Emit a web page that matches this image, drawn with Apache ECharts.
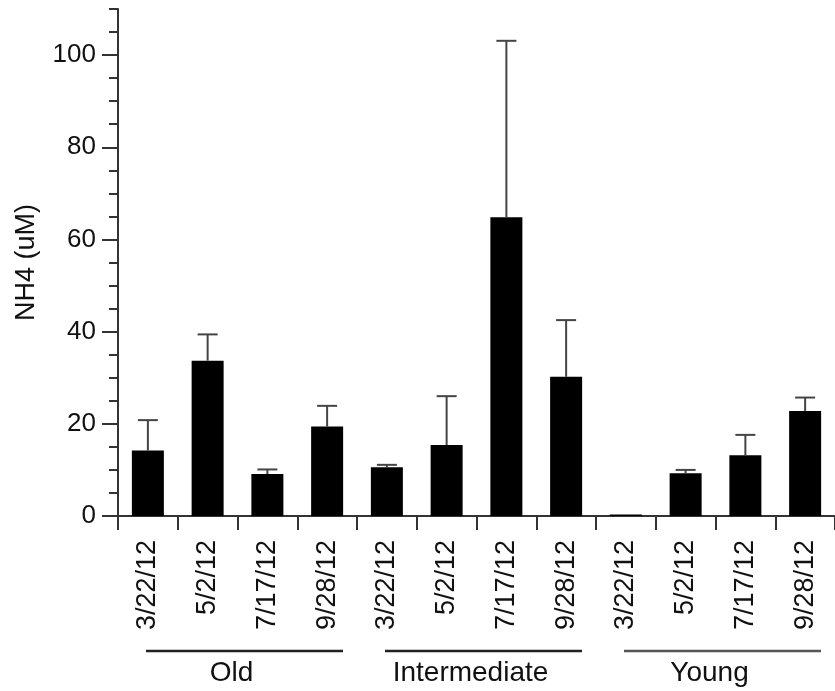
<!DOCTYPE html>
<html>
<head>
<meta charset="utf-8">
<script src="https://cdn.jsdelivr.net/npm/echarts@6/dist/echarts.min.js"></script>
<style>
  html, body { margin: 0; padding: 0; background: #fff; }
  #chart { width: 835px; height: 691px; }
</style>
</head>
<body>
<div id="chart"></div>
<script>
// Sampling dates, repeated for each stand age
const dates = ['3/22/12', '5/2/12', '7/17/12', '9/28/12'];
const groups = ['Old', 'Intermediate', 'Young'];
const groupLineColors = ['#222', '#222', '#555'];

// Mean NH4 (uM) per group and date
const oldMeans = [14.2, 33.7, 9.1, 19.4];
const intermediateMeans = [10.6, 15.4, 64.8, 30.2];
const youngMeans = [0.3, 9.3, 13.2, 22.8];

// Upper error (one side) per group and date
const oldErrors = [6.6, 5.7, 1.0, 4.5];
const intermediateErrors = [0.5, 10.6, 38.3, 12.3];
const youngErrors = [0.0, 0.7, 4.4, 2.9];

// Y axis tick values
const majorTicks = [0, 20, 40, 60, 80, 100];

const categories = [].concat(dates, dates, dates);
const means = [].concat(oldMeans, intermediateMeans, youngMeans);
const errors = [].concat(oldErrors, intermediateErrors, youngErrors);
const errorData = means.map((m, i) => [i, m, m + errors[i]]);

const FONT = 'Liberation Sans';
const AXIS_COLOR = '#333';

const chart = echarts.init(document.getElementById('chart'), null, { renderer: 'canvas' });

chart.setOption({
  animation: false,
  backgroundColor: '#fff',
  grid: { left: 118, top: 9, width: 719, height: 507, containLabel: false },
  xAxis: {
    type: 'category',
    data: categories,
    boundaryGap: true,
    axisLine: { lineStyle: { color: AXIS_COLOR, width: 2 } },
    axisTick: { show: true, interval: 0, length: 14, lineStyle: { color: AXIS_COLOR, width: 2 } },
    axisLabel: {
      interval: 0,
      rotate: 90,
      margin: 24,
      fontFamily: FONT,
      fontSize: 27,
      color: '#111'
    }
  },
  yAxis: [
    {
      type: 'value',
      min: 0,
      max: 110,
      interval: 20,
      name: 'NH4 (uM)',
      nameLocation: 'middle',
      nameGap: 78,
      nameRotate: 90,
      nameTextStyle: { fontFamily: FONT, fontSize: 27, color: '#111' },
      axisLine: { show: true, lineStyle: { color: AXIS_COLOR, width: 2 } },
      axisTick: { show: true, length: 16, customValues: majorTicks, lineStyle: { color: AXIS_COLOR, width: 2 } },
      axisLabel: {
        customValues: majorTicks,
        margin: 22,
        fontFamily: FONT,
        fontSize: 26,
        color: '#111'
      },
      splitLine: { show: false }
    },
    {
      // minor ticks every 5 units
      type: 'value',
      position: 'left',
      min: 0,
      max: 110,
      interval: 5,
      axisLine: { show: false },
      axisTick: { show: true, length: 9, lineStyle: { color: AXIS_COLOR, width: 2 } },
      axisLabel: { show: false },
      splitLine: { show: false }
    }
  ],
  series: [
    {
      type: 'bar',
      data: means,
      barWidth: 32,
      itemStyle: { color: '#000' },
      z: 2
    },
    {
      type: 'custom',
      data: errorData,
      encode: { x: 0, y: [1, 2] },
      z: 3,
      renderItem: function (params, api) {
        const idx = api.value(0);
        const base = api.coord([idx, api.value(1)]);
        const top = api.coord([idx, api.value(2)]);
        if (Math.abs(base[1] - top[1]) < 0.5) return null;
        const cap = 10;
        const style = { stroke: '#444', lineWidth: 2 };
        return {
          type: 'group',
          children: [
            { type: 'line', shape: { x1: top[0], y1: base[1], x2: top[0], y2: top[1] }, style: style },
            { type: 'line', shape: { x1: top[0] - cap, y1: top[1], x2: top[0] + cap, y2: top[1] }, style: style }
          ]
        };
      }
    }
  ]
});

// Group brackets under the date labels, positioned from the category axis
function drawGroups() {
  const c0 = chart.convertToPixel({ xAxisIndex: 0 }, 0);
  const c1 = chart.convertToPixel({ xAxisIndex: 0 }, 1);
  const band = c1 - c0;
  const y0 = chart.convertToPixel({ yAxisIndex: 0 }, 0);
  const elements = [];
  groups.forEach((name, g) => {
    const first = chart.convertToPixel({ xAxisIndex: 0 }, g * dates.length);
    const last = chart.convertToPixel({ xAxisIndex: 0 }, g * dates.length + dates.length - 1);
    const left = first - band / 2 + 28;
    const right = last + band / 2 - 14;
    elements.push({
      type: 'line',
      shape: { x1: left, y1: y0 + 135, x2: right, y2: y0 + 135 },
      style: { stroke: groupLineColors[g], lineWidth: 2.5 }
    });
    elements.push({
      type: 'text',
      x: (first + last) / 2 - 6,
      y: y0 + 157,
      style: {
        text: name,
        fontFamily: FONT,
        fontSize: 28,
        fill: '#111',
        align: 'center',
        verticalAlign: 'middle'
      }
    });
  });
  chart.setOption({ graphic: elements });
}
drawGroups();
</script>
</body>
</html>
